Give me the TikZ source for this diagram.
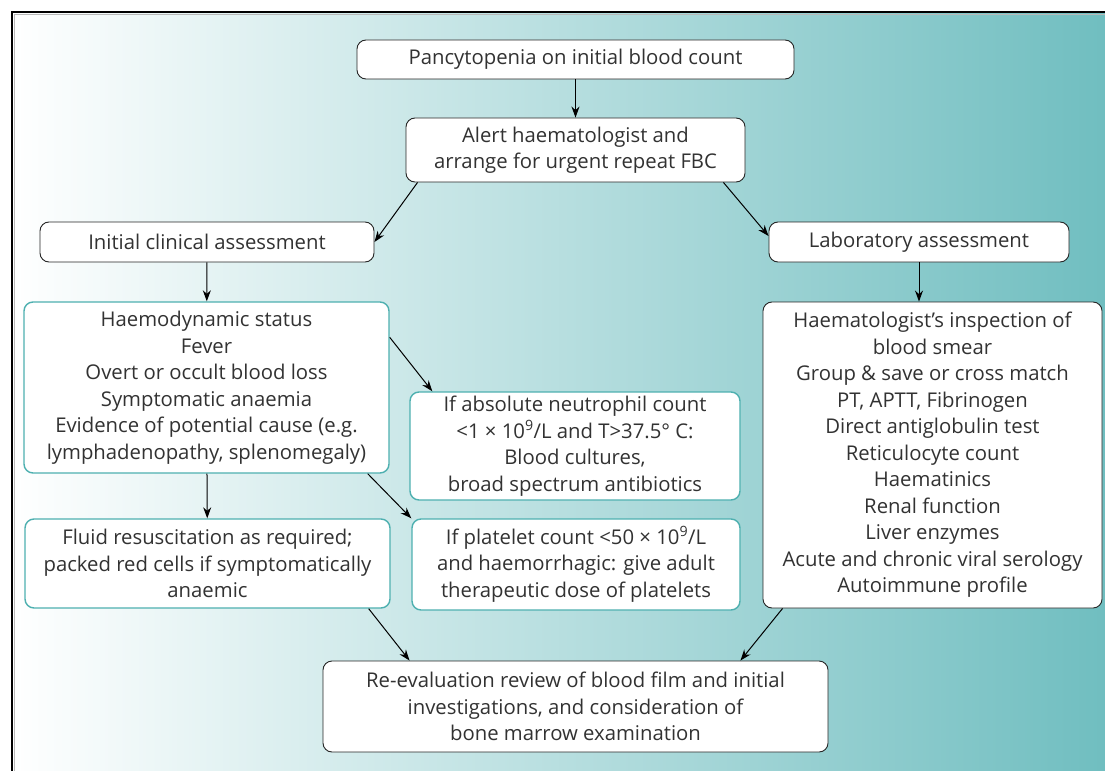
\documentclass[tikz,border=0pt]{standalone}
\usepackage{fontspec}
\setmainfont{Open Sans}
\usepackage{tikz}
\usetikzlibrary{arrows.meta, positioning}

\definecolor{tealbg}{RGB}{112,190,192}
\definecolor{tealline}{RGB}{78,176,176}
\definecolor{txtgray}{RGB}{50,50,50}

\begin{document}
\begin{tikzpicture}[x=1bp, y=-1bp,
  box/.style={draw, rounded corners=9bp, fill=white, align=center, text=txtgray,
    font=\fontsize{20.3bp}{26.5bp}\selectfont, inner sep=0pt},
  blk/.style={box, draw=black!85, line width=0.9bp},
  tealbox/.style={box, draw=tealline, line width=1.4bp},
  arr/.style={-{Stealth[length=11bp, width=8bp]}, line width=1bp},
]
\useasboundingbox (0,0) rectangle (1105,771);

% ===== background and frame =====
\fill[white] (0,0) rectangle (1105,771);
\shade[left color=white, right color=tealbg] (12,12) rectangle (1105,771);
\draw[gray!55, line width=1bp] (14.5,771) -- (14.5,14.5) -- (1105,14.5);
\draw[black, line width=2bp] (12,771) -- (12,12) -- (1105,12);

% ===== top =====
\node[blk, minimum width=437bp, minimum height=39bp] (pancy) at (575.5,59.5) {Pancytopenia on initial blood count};
\node[blk, minimum width=339bp, minimum height=64bp] (alert) at (575.5,150) {Alert haematologist and\\arrange for urgent repeat FBC};

% ===== clinical branch (left) =====
\node[blk, minimum width=334bp, minimum height=40bp] (clinical) at (207,242) {Initial clinical assessment};
\node[tealbox, minimum width=365bp, minimum height=171bp] (haemo) at (206.5,387.5) {Haemodynamic status\\Fever\\Overt or occult blood loss\\Symptomatic anaemia\\Evidence of potential cause (e.g.\\lymphadenopathy, splenomegaly)};
\node[tealbox, minimum width=365bp, minimum height=89bp] (fluid) at (207.5,563.5) {Fluid resuscitation as required;\\packed red cells if symptomatically\\anaemic};
\node[tealbox, minimum width=330bp, minimum height=108bp] (neutro) at (575,446) {If absolute neutrophil count\\<1 × 10\textsuperscript{9}/L and T>37.5° C:\\Blood cultures,\\broad spectrum antibiotics};
\node[tealbox, minimum width=328bp, minimum height=91bp] (platelet) at (576,564.5) {If platelet count <50 × 10\textsuperscript{9}/L\\and haemorrhagic: give adult\\therapeutic dose of platelets};

% ===== laboratory branch (right) =====
\node[blk, minimum width=300bp, minimum height=40bp] (lab) at (919,242) {Laboratory assessment};
\node[blk, minimum width=339bp, minimum height=306bp] (smear) at (932.5,455) {Haematologist’s inspection of\\blood smear\\Group \& save or cross match\\PT, APTT, Fibrinogen\\Direct antiglobulin test\\Reticulocyte count\\Haematinics\\Renal function\\Liver enzymes\\Acute and chronic viral serology\\Autoimmune profile};

% ===== bottom =====
\node[blk, minimum width=505bp, minimum height=91bp] (review) at (575.5,706.5) {Re-evaluation review of blood film and initial\\investigations, and consideration of\\bone marrow examination};

% ===== connectors =====
\draw[arr] (pancy) -- (alert);
\draw[arr] ([xshift=12bp]alert.south west) -- (clinical.east);
\draw[arr] ([xshift=-22bp]alert.south east) -- ([yshift=6bp]lab.west);
\draw[arr] (clinical) -- (haemo);
\draw[arr] (haemo) -- (fluid);
\draw[arr] ([yshift=-36bp]haemo.north east) -- ([xshift=23bp]neutro.north west);
\draw[arr] ([xshift=-22bp]haemo.south east) -- (platelet.north west);
\draw[arr] (lab.south) -- (lab.south |- smear.north);
\draw[arr] ([xshift=-22bp]fluid.south east) -- ([xshift=87bp]review.north west);
\draw[arr] ([xshift=20bp]smear.south west) -- ([xshift=-88bp]review.north east);

\end{tikzpicture}
\end{document}
